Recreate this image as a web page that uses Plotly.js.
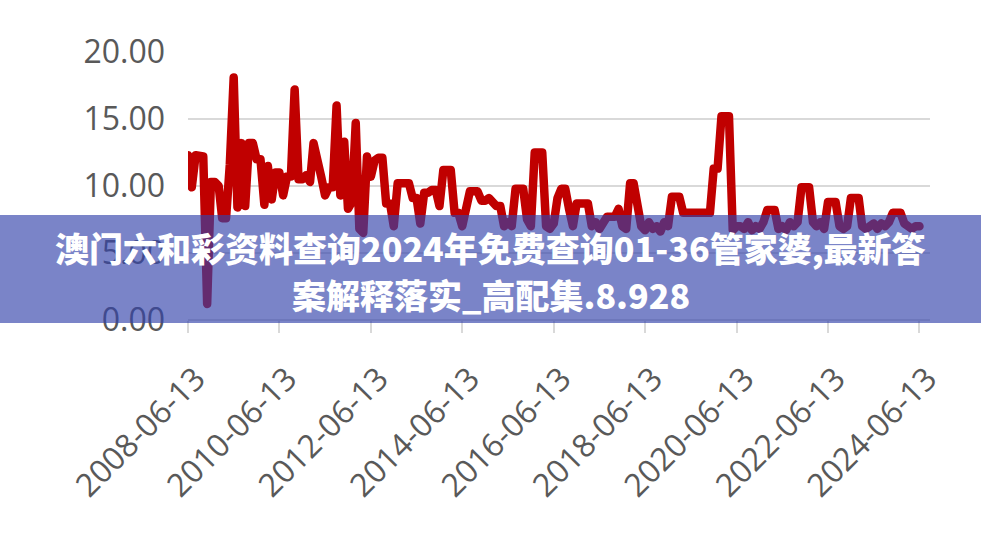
<!DOCTYPE html>
<html>
<head>
<meta charset="utf-8">
<script src="https://cdn.plot.ly/plotly-3.0.1.min.js"></script>
<style>
  html, body { margin: 0; padding: 0; background: #ffffff; }
  #chart { width: 981px; height: 540px; }
  .scatterlayer .js-line { stroke-linejoin: round; stroke-linecap: round; }
</style>
</head>
<body>
<div id="chart"></div>
<script>
// Monthly series starting 2008-06
const startYear = 2008;
const startMonth = 6;
const seriesValues = [
  12.3, 9.9, 12.3, 12.3, 12.2, 1.2, 10.3, 10.3, 10.0, 7.6,
  7.6, 11.6, 18.1, 8.4, 13.2, 8.5, 13.2, 13.2, 12.0, 12.0,
  8.6, 11.5, 9.0, 11.0, 11.0, 9.3, 10.7, 10.7, 17.2, 10.5,
  10.5, 10.8, 10.3, 13.2, 11.5, 10.7, 9.3, 9.9, 9.9, 16.0,
  9.3, 13.3, 8.3, 8.8, 14.7, 6.8, 6.5, 12.2, 10.7, 11.9,
  12.1, 12.1, 8.7, 8.7, 7.0, 10.2, 10.2, 10.2, 10.2, 9.1,
  9.1, 7.2, 9.5, 9.5, 9.7, 9.7, 8.5, 11.2, 11.2, 11.2,
  8.0, 8.0, 7.0, 8.3, 9.6, 9.6, 9.6, 8.9, 8.9, 9.1,
  8.8, 8.5, 8.5, 7.0, 7.3, 7.0, 9.8, 9.8, 9.8, 7.5,
  7.0, 12.5, 12.5, 12.5, 7.0, 6.8, 7.2, 9.1, 9.8, 9.8,
  8.3, 7.0, 8.7, 8.7, 8.7, 8.7, 7.0, 7.3, 6.8, 7.3,
  7.7, 7.7, 7.7, 8.3, 7.0, 6.8, 10.2, 10.2, 8.7, 7.0,
  6.7, 7.3, 6.8, 7.0, 6.6, 7.3, 7.0, 9.2, 9.2, 9.2,
  8.0, 8.0, 8.0, 8.0, 8.0, 8.0, 8.0, 8.0, 11.3, 11.3,
  15.2, 15.2, 15.2, 6.7, 7.0, 7.0, 6.8, 7.3, 6.7, 7.0,
  6.8, 7.3, 8.2, 8.2, 8.2, 6.8, 7.0, 6.7, 7.3, 7.0,
  7.3, 9.9, 9.9, 9.9, 7.3, 7.0, 7.3, 6.8, 8.8, 8.8,
  8.8, 7.0, 6.8, 7.0, 9.1, 9.1, 9.1, 7.0, 6.8, 7.0,
  7.2, 6.8, 7.2, 7.0, 7.3, 8.0, 8.0, 8.0, 7.2, 7.0,
  6.8, 7.0, 7.0
];
const xTickDates = ['2008-06-13','2010-06-13','2012-06-13','2014-06-13','2016-06-13',
                    '2018-06-13','2020-06-13','2022-06-13','2024-06-13'];
const xTickLabels = xTickDates.slice();
const yTickValues = [0, 5, 10, 15, 20];
const yTickLabels = ['0.00', '5.00', '10.00', '15.00', '20.00'];
const bannerLine1 = '澳门六和彩资料查询2024年免费查询01-36管家婆,最新答';
const bannerLine2 = '案解释落实_高配集.8.928';

const seriesDates = seriesValues.map(function (v, i) {
  const total = (startMonth - 1) + i;
  const y = startYear + Math.floor(total / 12);
  const m = (total % 12) + 1;
  return y + '-' + (m < 10 ? '0' + m : m) + '-13';
});

// plot geometry (pixels)
const W = 981, H = 540;
const L = 188, R = 51, T = 52, B = 220;
const PW = W - L - R, PH = H - T - B;
const px = function (x) { return (x - L) / PW; };
const py = function (y) { return (H - B - y) / PH; };

const trace = {
  type: 'scatter',
  mode: 'lines',
  x: seriesDates,
  y: seriesValues,
  line: { color: '#c00000', width: 8.5 },
  hoverinfo: 'skip'
};

const tickFont = { family: 'Open Sans, Lato, sans-serif', size: 32, color: '#595959' };

const layout = {
  width: W,
  height: H,
  margin: { l: L, r: R, t: T, b: B, pad: 0 },
  paper_bgcolor: '#ffffff',
  plot_bgcolor: '#ffffff',
  showlegend: false,
  xaxis: {
    type: 'date',
    range: ['2008-06-13', '2024-09-05'],
    tickmode: 'array',
    tickvals: xTickDates,
    ticktext: xTickLabels,
    tickangle: -45,
    ticks: 'outside',
    ticklen: 12,
    tickwidth: 2,
    tickcolor: '#d9d9d9',
    showgrid: false,
    zeroline: false,
    showline: false,
    tickfont: tickFont,
    ticklabelstandoff: 14,
    ticklabelshift: 8
  },
  yaxis: {
    range: [0, 20],
    tickmode: 'array',
    tickvals: yTickValues,
    ticktext: yTickLabels,
    showgrid: true,
    gridcolor: '#d9d9d9',
    gridwidth: 2.5,
    zeroline: true,
    zerolinecolor: '#d9d9d9',
    zerolinewidth: 2.5,
    showline: false,
    ticks: '',
    tickfont: tickFont,
    ticklabelstandoff: 22
  },
  shapes: [{
    type: 'rect',
    xref: 'paper', yref: 'paper',
    x0: px(0), x1: px(W),
    y0: py(323), y1: py(215),
    fillcolor: 'rgba(51,66,171,0.65)',
    line: { width: 0 },
    layer: 'above'
  }],
  annotations: [
    {
      xref: 'paper', yref: 'paper',
      x: px(490.5), y: py(247),
      xanchor: 'center', yanchor: 'middle',
      showarrow: false,
      text: bannerLine1,
      font: { family: 'Noto Sans CJK SC, sans-serif', size: 34, color: '#ffffff', weight: 900 }
    },
    {
      xref: 'paper', yref: 'paper',
      x: px(490.5), y: py(294),
      xanchor: 'center', yanchor: 'middle',
      showarrow: false,
      text: bannerLine2,
      font: { family: 'Noto Sans CJK SC, sans-serif', size: 34, color: '#ffffff', weight: 900 }
    }
  ]
};

Plotly.newPlot('chart', [trace], layout, { displayModeBar: false, staticPlot: true });
</script>
</body>
</html>
